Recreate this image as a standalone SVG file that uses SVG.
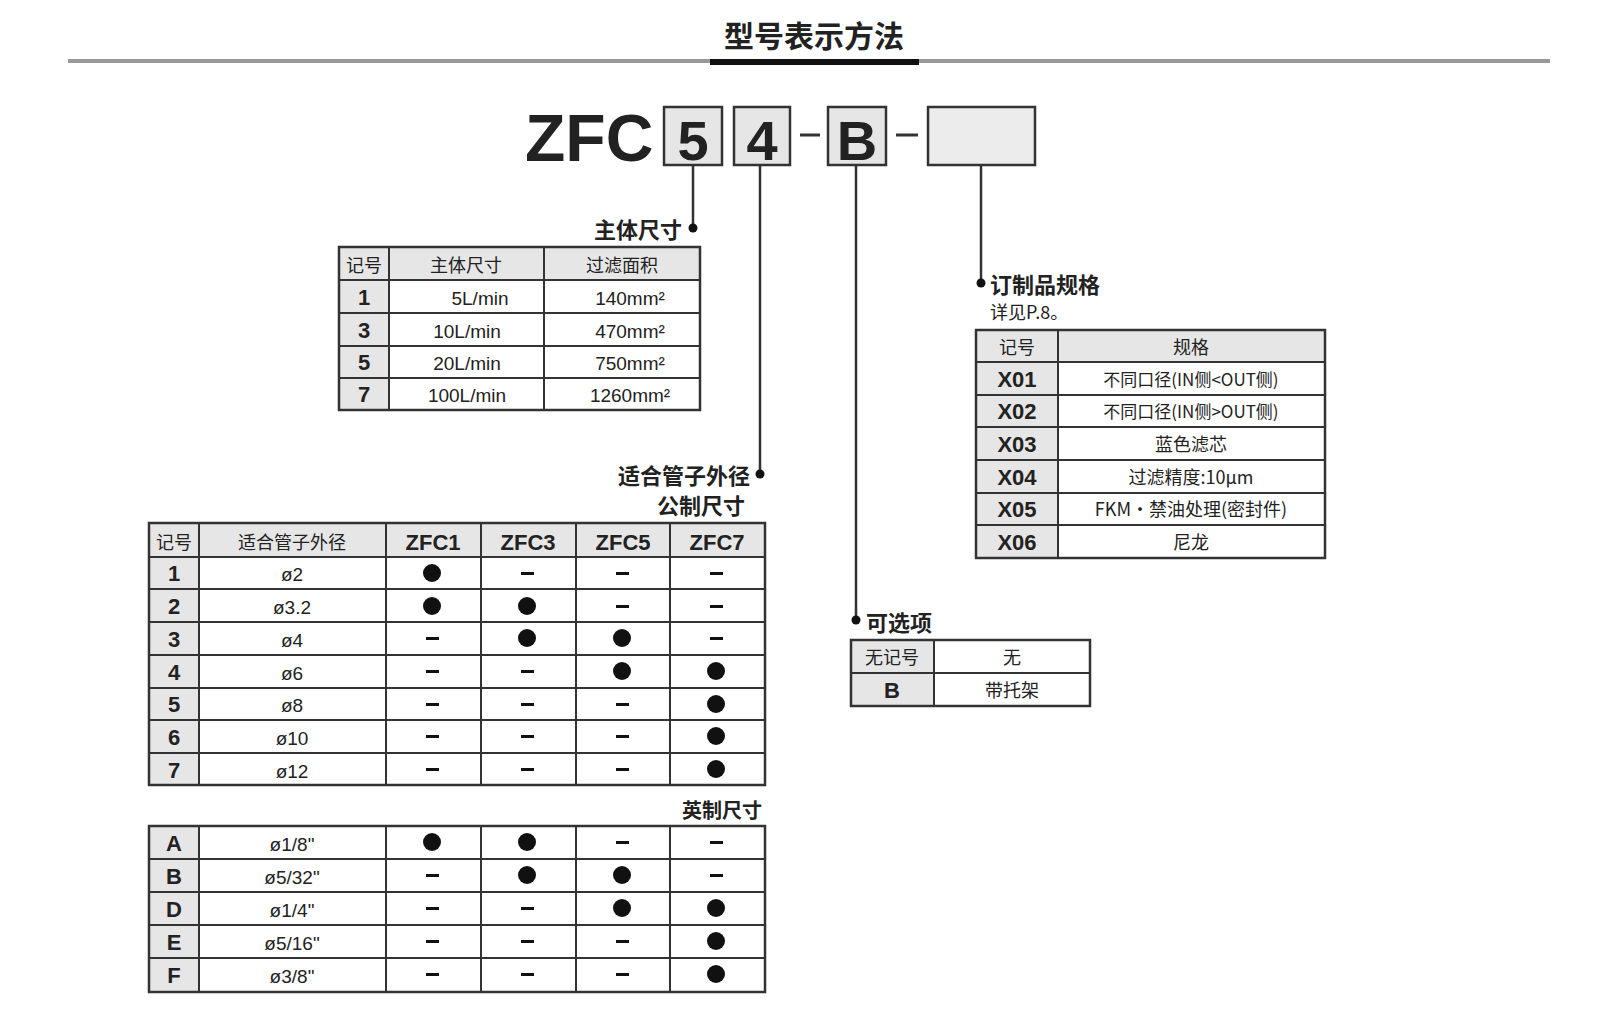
<svg xmlns="http://www.w3.org/2000/svg" width="1600" height="1034" viewBox="0 0 1600 1034">
<style>
text{font-family:"Liberation Sans","Noto Sans CJK SC",sans-serif;fill:#222}
.cjk{font-family:"Noto Sans CJK SC","Liberation Sans",sans-serif}
.h{fill:#e6e6e6}
.g{stroke:#333;stroke-width:2;fill:none}
.o{stroke:#333;stroke-width:2.5;fill:none}
.k{font-weight:bold;font-size:22px;text-anchor:middle}
.c{font-size:19px;text-anchor:middle}
.cs{font-size:18px;text-anchor:middle}
.lb{font-size:22px;font-weight:bold}
.dash{fill:#222}
.ln{stroke:#333;stroke-width:2.5;fill:none}
</style>
<rect width="1600" height="1034" fill="#fff"/>
<g id="title">
<line x1="68" y1="61" x2="1550" y2="61" stroke="#999" stroke-width="4"/>
<text x="814" y="47" class="cjk" font-size="30" font-weight="bold" text-anchor="middle">型号表示方法</text>
<rect x="710" y="59" width="209" height="6" fill="#111"/>
</g>
<g id="code">
<text x="525" y="161" font-size="66" font-weight="bold">ZFC</text>
<rect x="664" y="107" width="58" height="58" class="h" stroke="#333" stroke-width="2.5"/>
<text x="693" y="160" font-size="56" font-weight="bold" text-anchor="middle">5</text>
<rect x="734" y="107" width="56" height="58" class="h" stroke="#333" stroke-width="2.5"/>
<text x="762" y="160" font-size="56" font-weight="bold" text-anchor="middle">4</text>
<line x1="800" y1="135" x2="820" y2="135" stroke="#333" stroke-width="3"/>
<rect x="828" y="107" width="58" height="58" class="h" stroke="#333" stroke-width="2.5"/>
<text x="857" y="160" font-size="56" font-weight="bold" text-anchor="middle">B</text>
<line x1="896" y1="135" x2="918" y2="135" stroke="#333" stroke-width="3"/>
<rect x="928" y="107" width="107" height="58" fill="#ececec" stroke="#333" stroke-width="2.5"/>
</g>
<g id="connectors">
<polyline class="ln" points="693,165 693,228"/><circle cx="693" cy="228" r="4.5" fill="#111"/>
<polyline class="ln" points="760,165 760,474"/><circle cx="760" cy="474" r="4.5" fill="#111"/>
<polyline class="ln" points="856,165 856,620"/><circle cx="856" cy="620" r="4.5" fill="#111"/>
<polyline class="ln" points="981,165 981,283"/><circle cx="981" cy="283" r="4.5" fill="#111"/>
</g>
<g id="body-size">
<text x="682" y="238" class="cjk lb" text-anchor="end">主体尺寸</text>
<rect x="339" y="247" width="361" height="33" class="h"/>
<rect x="339" y="280" width="50" height="130" class="h"/>
<g class="g">
<line x1="339" y1="280" x2="700" y2="280"/><line x1="339" y1="313" x2="700" y2="313"/><line x1="339" y1="346" x2="700" y2="346"/><line x1="339" y1="378" x2="700" y2="378"/>
<line x1="389" y1="247" x2="389" y2="410"/><line x1="544" y1="247" x2="544" y2="410"/>
</g>
<rect x="339" y="247" width="361" height="163" class="o"/>
<text x="364" y="272" class="cjk cs">记号</text><text x="466" y="272" class="cjk cs">主体尺寸</text><text x="622" y="272" class="cjk cs">过滤面积</text>
<text x="364" y="305" class="k">1</text><text x="480" y="305" class="c">5L/min</text><text x="630" y="305" class="c">140mm²</text>
<text x="364" y="338" class="k">3</text><text x="467" y="338" class="c">10L/min</text><text x="630" y="338" class="c">470mm²</text>
<text x="364" y="370" class="k">5</text><text x="467" y="370" class="c">20L/min</text><text x="630" y="370" class="c">750mm²</text>
<text x="364" y="402" class="k">7</text><text x="467" y="402" class="c">100L/min</text><text x="630" y="402" class="c">1260mm²</text>
</g>
<g id="tube-metric">
<text x="750" y="484" class="cjk lb" text-anchor="end">适合管子外径</text>
<text x="745" y="514" class="cjk lb" text-anchor="end">公制尺寸</text>
<rect x="149" y="523" width="616" height="34" class="h"/>
<rect x="149" y="557" width="50" height="228" class="h"/>
<g class="g">
<line x1="149" y1="557" x2="765" y2="557"/><line x1="149" y1="589" x2="765" y2="589"/><line x1="149" y1="622" x2="765" y2="622"/><line x1="149" y1="655" x2="765" y2="655"/><line x1="149" y1="688" x2="765" y2="688"/><line x1="149" y1="720" x2="765" y2="720"/><line x1="149" y1="753" x2="765" y2="753"/>
<line x1="199" y1="523" x2="199" y2="785"/><line x1="386" y1="523" x2="386" y2="785"/><line x1="481" y1="523" x2="481" y2="785"/><line x1="576" y1="523" x2="576" y2="785"/><line x1="670" y1="523" x2="670" y2="785"/>
</g>
<rect x="149" y="523" width="616" height="262" class="o"/>
<text x="174" y="549" class="cjk cs">记号</text><text x="292" y="549" class="cjk cs">适合管子外径</text>
<text x="433" y="550" class="k">ZFC1</text><text x="528" y="550" class="k">ZFC3</text><text x="623" y="550" class="k">ZFC5</text><text x="717" y="550" class="k">ZFC7</text>
<text x="174" y="581" class="k">1</text><text x="292" y="581" class="c">ø2</text>
<text x="174" y="614" class="k">2</text><text x="292" y="614" class="c">ø3.2</text>
<text x="174" y="647" class="k">3</text><text x="292" y="647" class="c">ø4</text>
<text x="174" y="680" class="k">4</text><text x="292" y="680" class="c">ø6</text>
<text x="174" y="712" class="k">5</text><text x="292" y="712" class="c">ø8</text>
<text x="174" y="745" class="k">6</text><text x="292" y="745" class="c">ø10</text>
<text x="174" y="778" class="k">7</text><text x="292" y="778" class="c">ø12</text>
<g fill="#111">
<circle cx="432" cy="573" r="9"/><rect x="521" y="572" width="13" height="3"/><rect x="616" y="572" width="13" height="3"/><rect x="710" y="572" width="13" height="3"/>
<circle cx="432" cy="606" r="9"/><circle cx="527" cy="606" r="9"/><rect x="616" y="605" width="13" height="3"/><rect x="710" y="605" width="13" height="3"/>
<rect x="426" y="637" width="13" height="3"/><circle cx="527" cy="638" r="9"/><circle cx="622" cy="638" r="9"/><rect x="710" y="637" width="13" height="3"/>
<rect x="426" y="670" width="13" height="3"/><rect x="521" y="670" width="13" height="3"/><circle cx="622" cy="671" r="9"/><circle cx="716" cy="671" r="9"/>
<rect x="426" y="703" width="13" height="3"/><rect x="521" y="703" width="13" height="3"/><rect x="616" y="703" width="13" height="3"/><circle cx="716" cy="704" r="9"/>
<rect x="426" y="735" width="13" height="3"/><rect x="521" y="735" width="13" height="3"/><rect x="616" y="735" width="13" height="3"/><circle cx="716" cy="736" r="9"/>
<rect x="426" y="768" width="13" height="3"/><rect x="521" y="768" width="13" height="3"/><rect x="616" y="768" width="13" height="3"/><circle cx="716" cy="769" r="9"/>
</g>
</g>
<g id="tube-inch">
<text x="762" y="818" class="cjk" font-size="20" font-weight="bold" text-anchor="end">英制尺寸</text>
<rect x="149" y="826" width="50" height="166" class="h"/>
<g class="g">
<line x1="149" y1="859" x2="765" y2="859"/><line x1="149" y1="892" x2="765" y2="892"/><line x1="149" y1="925" x2="765" y2="925"/><line x1="149" y1="958" x2="765" y2="958"/>
<line x1="199" y1="826" x2="199" y2="992"/><line x1="386" y1="826" x2="386" y2="992"/><line x1="481" y1="826" x2="481" y2="992"/><line x1="576" y1="826" x2="576" y2="992"/><line x1="670" y1="826" x2="670" y2="992"/>
</g>
<rect x="149" y="826" width="616" height="166" class="o"/>
<text x="174" y="851" class="k">A</text><text x="292" y="851" class="c">ø1/8"</text>
<text x="174" y="884" class="k">B</text><text x="292" y="884" class="c">ø5/32"</text>
<text x="174" y="917" class="k">D</text><text x="292" y="917" class="c">ø1/4"</text>
<text x="174" y="950" class="k">E</text><text x="292" y="950" class="c">ø5/16"</text>
<text x="174" y="983" class="k">F</text><text x="292" y="983" class="c">ø3/8"</text>
<g fill="#111">
<circle cx="432" cy="842" r="9"/><circle cx="527" cy="842" r="9"/><rect x="616" y="841" width="13" height="3"/><rect x="710" y="841" width="13" height="3"/>
<rect x="426" y="874" width="13" height="3"/><circle cx="527" cy="875" r="9"/><circle cx="622" cy="875" r="9"/><rect x="710" y="874" width="13" height="3"/>
<rect x="426" y="907" width="13" height="3"/><rect x="521" y="907" width="13" height="3"/><circle cx="622" cy="908" r="9"/><circle cx="716" cy="908" r="9"/>
<rect x="426" y="940" width="13" height="3"/><rect x="521" y="940" width="13" height="3"/><rect x="616" y="940" width="13" height="3"/><circle cx="716" cy="941" r="9"/>
<rect x="426" y="973" width="13" height="3"/><rect x="521" y="973" width="13" height="3"/><rect x="616" y="973" width="13" height="3"/><circle cx="716" cy="974" r="9"/>
</g>
</g>
<g id="option">
<text x="866" y="631" class="cjk lb">可选项</text>
<rect x="851" y="640" width="83" height="66" class="h"/>
<g class="g"><line x1="851" y1="673" x2="1090" y2="673"/><line x1="934" y1="640" x2="934" y2="706"/></g>
<rect x="851" y="640" width="239" height="66" class="o"/>
<text x="892" y="664" class="cjk cs">无记号</text><text x="1012" y="664" class="cjk cs">无</text>
<text x="892" y="698" class="k">B</text><text x="1012" y="697" class="cjk cs">带托架</text>
</g>
<g id="custom">
<text x="990" y="293" class="cjk lb">订制品规格</text>
<text x="990" y="319" class="cjk" font-size="18">详见P.8。</text>
<rect x="976" y="330" width="349" height="32" class="h"/>
<rect x="976" y="362" width="82" height="196" class="h"/>
<g class="g">
<line x1="976" y1="362" x2="1325" y2="362"/><line x1="976" y1="395" x2="1325" y2="395"/><line x1="976" y1="427" x2="1325" y2="427"/><line x1="976" y1="460" x2="1325" y2="460"/><line x1="976" y1="493" x2="1325" y2="493"/><line x1="976" y1="525" x2="1325" y2="525"/>
<line x1="1058" y1="330" x2="1058" y2="558"/>
</g>
<rect x="976" y="330" width="349" height="228" class="o"/>
<text x="1017" y="354" class="cjk cs">记号</text><text x="1191" y="354" class="cjk cs">规格</text>
<text x="1017" y="387" class="k">X01</text><text x="1191" y="386" class="cjk" font-size="17" text-anchor="middle">不同口径(IN侧&lt;OUT侧)</text>
<text x="1017" y="419" class="k">X02</text><text x="1191" y="418" class="cjk" font-size="17" text-anchor="middle">不同口径(IN侧&gt;OUT侧)</text>
<text x="1017" y="452" class="k">X03</text><text x="1191" y="451" class="cjk cs">蓝色滤芯</text>
<text x="1017" y="485" class="k">X04</text><text x="1191" y="484" class="cjk cs">过滤精度:10μm</text>
<text x="1017" y="517" class="k">X05</text><text x="1191" y="516" class="cjk cs">FKM·禁油处理(密封件)</text>
<text x="1017" y="550" class="k">X06</text><text x="1191" y="549" class="cjk cs">尼龙</text>
</g>
</svg>
